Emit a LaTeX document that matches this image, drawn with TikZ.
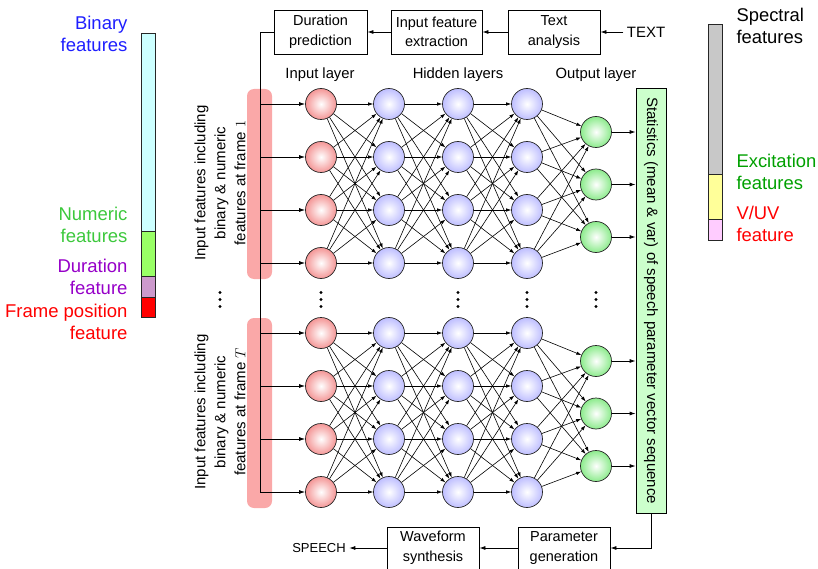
\documentclass[tikz,border=0pt]{standalone}
\usepackage{fontspec}
\setmainfont{Liberation Sans}
\usetikzlibrary{arrows.meta,calc}

\definecolor{binC}{RGB}{204,255,255}
\definecolor{numC}{RGB}{153,255,102}
\definecolor{durC}{RGB}{204,153,204}
\definecolor{posC}{RGB}{255,0,0}
\definecolor{specC}{RGB}{200,200,200}
\definecolor{excC}{RGB}{255,255,153}
\definecolor{vuvC}{RGB}{255,204,255}
\definecolor{inC}{RGB}{244,150,150}
\definecolor{hidC}{RGB}{190,190,255}
\definecolor{outC}{RGB}{140,235,140}
\definecolor{statC}{RGB}{204,255,204}
\definecolor{bandC}{RGB}{250,168,168}
\definecolor{txtBlue}{RGB}{30,30,255}
\definecolor{txtGreen}{RGB}{60,200,60}
\definecolor{txtDkGreen}{RGB}{0,160,0}
\definecolor{txtPurple}{RGB}{150,0,200}
\definecolor{txtRed}{RGB}{255,0,0}

\tikzset{
  neuron/.style={circle, minimum size=31pt, inner sep=0pt, draw=black!85, line width=0.7pt},
  inneuron/.style={neuron, inner color=white, outer color=inC},
  hidneuron/.style={neuron, inner color=white, outer color=hidC},
  outneuron/.style={neuron, inner color=white, outer color=outC},
  conn/.style={line width=0.6pt, -{Latex[length=5pt,width=3.5pt]}},
  flow/.style={line width=0.8pt, -{Latex[length=6pt,width=4pt]}},
  procbox/.style={draw, line width=0.8pt, align=center, inner sep=0pt,
    minimum height=44pt, font=\fontsize{14.5}{19.5}\selectfont},
  barseg/.style={draw=black!85, line width=0.8pt},
  sidelabel/.style={align=right, font=\fontsize{18.5}{21.5}\selectfont},
  rsidelabel/.style={align=left, font=\fontsize{18.4}{22.5}\selectfont},
  layerlabel/.style={font=\fontsize{14.8}{16}\selectfont},
  bandlabel/.style={rotate=90, align=center, font=\fontsize{15}{20}\selectfont},
  band/.style={fill=bandC, rounded corners=7pt},
  vdot/.style={fill=black}
}

\begin{document}
\begin{tikzpicture}[x=1pt,y=-1pt]
\useasboundingbox (0,0) rectangle (818,569);

% ---------- input feature vector (left) ----------
\fill[binC] (141,33) rectangle (155,231);
\fill[numC] (141,231) rectangle (155,276);
\fill[durC] (141,276) rectangle (155,297);
\fill[posC] (141,297) rectangle (155,317);
\draw[barseg] (141,33) rectangle (155,317);
\draw[barseg] (141,231) -- (155,231) (141,276) -- (155,276) (141,297) -- (155,297);
\node[sidelabel, text=txtBlue, anchor=east] (lbin) at (131,34) {Binary\\features};
\node[sidelabel, text=txtGreen, anchor=east] (lnum) at (131,225) {Numeric\\features};
\node[sidelabel, text=txtPurple, anchor=east] (ldur) at (131,277) {Duration\\feature};
\node[sidelabel, text=txtRed, anchor=east] (lpos) at (131,322) {Frame position\\feature};

% ---------- output parameter vector (right) ----------
\fill[specC] (708,24) rectangle (722,174);
\fill[excC] (708,174) rectangle (722,219);
\fill[vuvC] (708,219) rectangle (722,240);
\draw[barseg] (708,24) rectangle (722,240);
\draw[barseg] (708,174) -- (722,174) (708,219) -- (722,219);
\node[rsidelabel, anchor=west] (rspec) at (733,26) {Spectral\\features};
\node[rsidelabel, text=txtDkGreen, anchor=west] (rexc) at (733,172) {Excitation\\features};
\node[rsidelabel, text=txtRed, anchor=west] (rvuv) at (733,224) {V/UV\\feature};

% ---------- front end ----------
\node[procbox, minimum width=93pt] (dur) at (320.5,32) {Duration\\prediction};
\node[procbox, minimum width=91pt] (ife) at (436.5,32) {Input feature\\extraction};
\node[procbox, minimum width=92pt] (ta) at (554,32) {Text\\analysis};
\node[font=\fontsize{15}{16}\selectfont] (txt) at (646,32) {TEXT};
\draw[flow] (txt) -- (ta);
\draw[flow] (ta) -- (ife);
\draw[flow] (ife) -- (dur);

% ---------- frame bands ----------
\fill[band] (247,89) rectangle (272,279);
\fill[band] (247,318) rectangle (272,508);
\node[bandlabel] (bl1) at (220,183) {Input features including\\binary \& numeric\\features at frame $1$};
\node[bandlabel] (bl2) at (220,412) {Input features including\\binary \& numeric\\features at frame $T$};

% distribution line from duration prediction
\coordinate (busTop) at (260,32);
\coordinate (busBot) at (260,492);
\draw[line width=0.8pt] (dur.west) -- (busTop) -- (busBot);

% ---------- layer titles ----------
\node[layerlabel] (tin) at (320,75) {Input layer};
\node[layerlabel] (thid) at (458,75) {Hidden layers};
\node[layerlabel] (tout) at (596,75) {Output layer};

% ---------- statistics box ----------
\node[draw, line width=0.8pt, fill=statC, minimum width=30pt, minimum height=425pt,
      inner sep=0pt] (stat) at (651,300.5) {};
\node[rotate=-90, inner sep=0pt, font=\fontsize{15}{16}\selectfont] (statlbl) at (stat.center)
      {Statistics (mean \& var) of speech parameter vector sequence};

% ---------- networks for the first and the last frame ----------
\foreach \g/\ys in {u/104, l/333} {
  \foreach \k in {1,...,4} {
    \node[inneuron]  (i\g\k) at (321, \ys+53*\k-53) {};
    \node[hidneuron] (a\g\k) at (389, \ys+53*\k-53) {};
    \node[hidneuron] (b\g\k) at (458, \ys+53*\k-53) {};
    \node[hidneuron] (c\g\k) at (527, \ys+53*\k-53) {};
    \draw[flow] (i\g\k -| busTop) -- (i\g\k);
  }
  \foreach \k in {1,...,3} {
    \node[outneuron] (o\g\k) at (596, \ys+28+52.5*\k-52.5) {};
    \draw[flow] (o\g\k) -- (o\g\k -| stat.west);
  }
  \foreach \p in {1,...,4} {
    \foreach \q in {1,...,4} {
      \draw[conn] (i\g\p) -- (a\g\q);
      \draw[conn] (a\g\p) -- (b\g\q);
      \draw[conn] (b\g\p) -- (c\g\q);
    }
    \foreach \q in {1,...,3} {
      \draw[conn] (c\g\p) -- (o\g\q);
    }
  }
}

% ---------- vertical ellipses between the two frames ----------
\foreach \x in {220,321,458,527,596} {
  \foreach \y in {292.5,299.5,306.5} {
    \fill[vdot] (\x,\y) circle (1.6pt);
  }
}

% ---------- back end ----------
\node[procbox, minimum width=92pt, minimum height=42pt] (pg) at (564,548) {Parameter\\generation};
\node[procbox, minimum width=92pt, minimum height=42pt] (ws) at (433,548) {Waveform\\synthesis};
\node[font=\fontsize{13}{14}\selectfont] (sp) at (319,548) {SPEECH};
\coordinate (statTurn) at (651,548);
\draw[flow] (stat.south) -- (statTurn) -- (pg.east);
\draw[flow] (pg) -- (ws);
\draw[flow] (ws) -- (sp);

\end{tikzpicture}
\end{document}
